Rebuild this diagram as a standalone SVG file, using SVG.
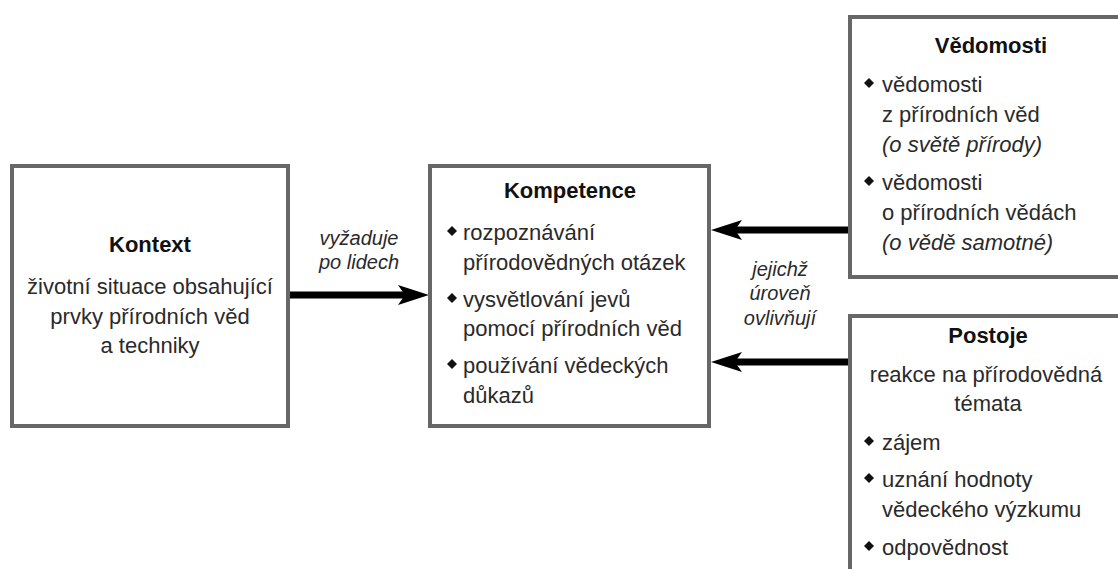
<svg xmlns="http://www.w3.org/2000/svg" width="1118" height="569" viewBox="0 0 1118 569">
  <defs>
    <style>
      .box { fill: #ffffff; stroke: #676767; stroke-width: 4; }
      .title { font-family: "Liberation Sans", Arial, sans-serif; font-size: 22px; font-weight: bold; fill: #111111; text-anchor: middle; }
      .txt { font-family: "Liberation Sans", Arial, sans-serif; font-size: 22px; fill: #2a2a2a; }
      .mid { text-anchor: middle; }
      .it { font-style: italic; }
      .lbl { font-family: "Liberation Sans", Arial, sans-serif; font-size: 20px; font-style: italic; fill: #2a2a2a; text-anchor: middle; }
      .conn { stroke: #000000; stroke-width: 7; fill: none; }
      .bullet { fill: #111111; }
    </style>
    <marker id="arrow" markerUnits="userSpaceOnUse" viewBox="0 0 31 20" markerWidth="31" markerHeight="20" refX="7" refY="10" orient="auto">
      <path d="M0,0 L31,10 L0,20 L7,10 Z" fill="#000000"/>
    </marker>
    <path id="dia" d="M0,-5 L5,0 L0,5 L-5,0 Z"/>
  </defs>

  <g id="connectors">
    <line class="conn" x1="290" y1="295" x2="405" y2="295" marker-end="url(#arrow)"/>
    <line class="conn" x1="850" y1="230" x2="735" y2="230" marker-end="url(#arrow)"/>
    <line class="conn" x1="850" y1="362" x2="735" y2="362" marker-end="url(#arrow)"/>
    <text class="lbl" x="359" y="245">vyžaduje</text>
    <text class="lbl" x="359" y="269">po lidech</text>
    <text class="lbl" x="780" y="276">jejichž</text>
    <text class="lbl" x="780" y="300">úroveň</text>
    <text class="lbl" x="780" y="325">ovlivňují</text>
  </g>

  <g id="kontext">
    <rect class="box" x="12" y="166" width="276" height="260"/>
    <text class="title" x="150" y="252">Kontext</text>
    <text class="txt mid" x="150" y="294">životní situace obsahující</text>
    <text class="txt mid" x="150" y="324">prvky přírodních věd</text>
    <text class="txt mid" x="150" y="353">a techniky</text>
  </g>

  <g id="kompetence">
    <rect class="box" x="430" y="166" width="279" height="260"/>
    <text class="title" x="570" y="198">Kompetence</text>
    <use href="#dia" class="bullet" x="452" y="231"/>
    <text class="txt" x="463" y="240">rozpoznávání</text>
    <text class="txt" x="463" y="270">přírodovědných otázek</text>
    <use href="#dia" class="bullet" x="452" y="298"/>
    <text class="txt" x="463" y="307">vysvětlování jevů</text>
    <text class="txt" x="463" y="336">pomocí přírodních věd</text>
    <use href="#dia" class="bullet" x="452" y="364"/>
    <text class="txt" x="463" y="373">používání vědeckých</text>
    <text class="txt" x="463" y="403">důkazů</text>
  </g>

  <g id="vedomosti">
    <rect class="box" x="850" y="17" width="284" height="260"/>
    <text class="title" x="991" y="53">Vědomosti</text>
    <use href="#dia" class="bullet" x="869" y="83"/>
    <text class="txt" x="882" y="92">vědomosti</text>
    <text class="txt" x="882" y="122">z přírodních věd</text>
    <text class="txt it" x="882" y="152">(o světě přírody)</text>
    <use href="#dia" class="bullet" x="869" y="181"/>
    <text class="txt" x="882" y="190">vědomosti</text>
    <text class="txt" x="882" y="220">o přírodních vědách</text>
    <text class="txt it" x="882" y="250">(o vědě samotné)</text>
  </g>

  <g id="postoje">
    <rect class="box" x="850" y="316" width="284" height="280"/>
    <text class="title" x="988" y="343">Postoje</text>
    <text class="txt mid" x="986" y="382">reakce na přírodovědná</text>
    <text class="txt mid" x="988" y="411">témata</text>
    <use href="#dia" class="bullet" x="869" y="441"/>
    <text class="txt" x="882" y="450">zájem</text>
    <use href="#dia" class="bullet" x="869" y="478"/>
    <text class="txt" x="882" y="487">uznání hodnoty</text>
    <text class="txt" x="882" y="517">vědeckého výzkumu</text>
    <use href="#dia" class="bullet" x="869" y="546"/>
    <text class="txt" x="882" y="555">odpovědnost</text>
  </g>
</svg>
